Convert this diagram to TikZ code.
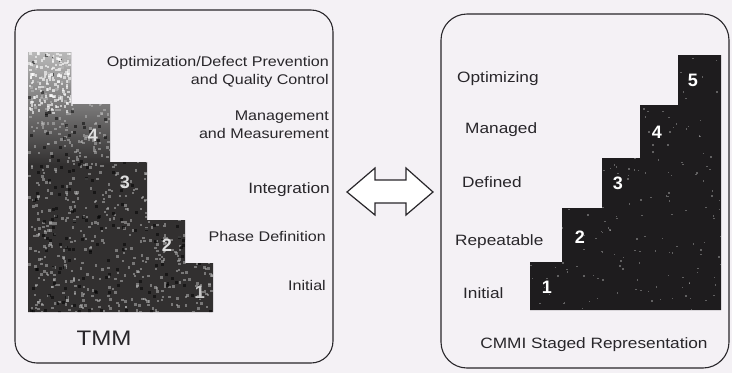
\documentclass[tikz,border=0pt]{standalone}
\usepackage{fontspec}
\setmainfont{Liberation Sans}
\newfontfamily\lvlfont[FakeStretch=1.15]{Liberation Sans}
\definecolor{paper}{RGB}{244,241,245}
\definecolor{ink}{RGB}{40,38,42}
\definecolor{stairdark}{RGB}{30,28,30}
\definecolor{stairgrey}{RGB}{50,48,48}

\begin{document}
\begin{tikzpicture}[x=1pt,y=-1pt,
    panel/.style={draw=ink, line width=1.1pt, fill=paper, inner sep=0pt},
    lvl/.style={font=\lvlfont\fontsize{14}{18}\selectfont, text=ink, inner sep=0pt},
    lvlR/.style={font=\lvlfont\fontsize{15}{18}\selectfont, text=ink, inner sep=0pt, anchor=base west},
    stepnum/.style={font=\bfseries\fontsize{18}{18}\selectfont, inner sep=0pt}]
  \fill[paper] (0,0) rectangle (732,373);
  % the two panels
  \node[panel, rounded corners=22pt, minimum width=318pt, minimum height=353pt] (tmmpanel) at (174,186.5) {};
  \node[panel, rounded corners=26pt, minimum width=288pt, minimum height=354pt] (cmmipanel) at (585,191) {};

  % TMM staircase
  \begin{scope}
    \clip (28,312) |- (71,52) |- (110,104) |- (147,162) |- (185,220) |- (213,263) -- (213,312) -- cycle;
    \fill[stairgrey] (20,40) rectangle (220,320);
    \shade[top color=gray!55, bottom color=stairgrey] (28,52) rectangle (110,165);
    \pgfmathsetseed{42}
    \foreach \i in {1,...,900}
      \fill[gray!50, opacity=0.5] ({28+185*rnd},{52+260*rnd}) rectangle ++(2.5,2.5);
    \foreach \i in {1,...,250}
      \fill[black, opacity=0.5] ({28+185*rnd},{52+260*rnd}) rectangle ++(3,3);
    \foreach \i in {1,...,150}
      \fill[white, opacity=0.6] ({28+43*rnd},{52+60*rnd}) rectangle ++(2.5,2.5);
  \end{scope}
  \node[stepnum, gray!25] (t4) at (93,135) {4};
  \node[stepnum, gray!25] (t3) at (125,182) {3};
  \node[stepnum, gray!25] (t2) at (167,245) {2};
  \node[stepnum, gray!45] (t1) at (200,292) {1};

  \node[lvl, anchor=east, align=right] (optdef) at (329,72) {Optimization/Defect Prevention\\and Quality Control};
  \node[lvl, anchor=east, align=right] (mgmt) at (329,125) {Management\\and Measurement};
  \node[lvl, anchor=east, font=\lvlfont\fontsize{15}{18}\selectfont] (integ) at (330,190) {Integration};
  \node[lvl, anchor=east] (phase) at (326,236) {Phase Definition};
  \node[lvl, anchor=east] (tinit) at (326,285) {Initial};
  \node[lvl, font=\lvlfont\fontsize{21}{21}\selectfont] (tmm) at (104,338) {TMM};

  % CMMI staircase
  \begin{scope}
    \clip (530,310) |- (562,262) |- (602,208) |- (640,158) |- (678,105) |- (721,55) -- (721,310) -- cycle;
    \fill[stairdark] (520,45) rectangle (730,320);
    \pgfmathsetseed{7}
    \foreach \i in {1,...,250}
      \fill[gray!45, opacity=0.4] ({530+191*rnd},{55+255*rnd}) rectangle ++(1.5,1.5);
  \end{scope}
  \node[stepnum, white] (c1) at (547,287) {1};
  \node[stepnum, white] (c2) at (580,237) {2};
  \node[stepnum, white] (c3) at (618,183) {3};
  \node[stepnum, white] (c4) at (657,132) {4};
  \node[stepnum, white] (c5) at (693,80) {5};

  \node[lvlR] (copt) at (457,82) {Optimizing};
  \node[lvlR] (cman) at (465,133) {Managed};
  \node[lvlR] (cdef) at (462,187) {Defined};
  \node[lvlR] (crep) at (455,245) {Repeatable};
  \node[lvlR] (cinit) at (463,298) {Initial};
  \node[lvl, font=\lvlfont\fontsize{15}{18}\selectfont] (staged) at (594,345) {CMMI Staged Representation};

  % double arrow between the panels
  \coordinate (lefttip) at (347,192);
  \coordinate (righttip) at (433,192);
  \draw[ink, line width=1.2pt, fill=white, line join=miter]
    (lefttip) -- ++(28,-24) -- ++(0,12) -- ++(31,0) -- ++(0,-12) -- (righttip)
    -- ++(-27,23) -- ++(0,-12) -- ++(-31,0) -- ++(0,12) -- cycle;
\end{tikzpicture}
\end{document}
